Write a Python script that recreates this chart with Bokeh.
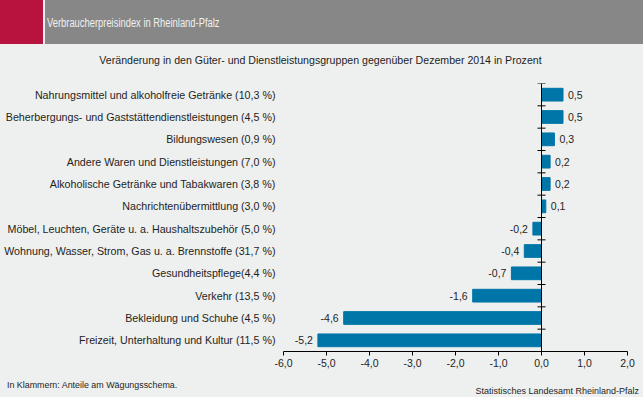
from bokeh.plotting import figure
from bokeh.models import (ColumnDataSource, Range1d, FixedTicker, Span, Div)
from bokeh.layouts import column
from bokeh.core.properties import value
from bokeh.embed import file_html
from bokeh.resources import INLINE

# ---------------- data ----------------
categories = [
    "Nahrungsmittel und alkoholfreie Getränke (10,3 %)",
    "Beherbergungs- und Gaststättendienstleistungen (4,5 %)",
    "Bildungswesen (0,9 %)",
    "Andere Waren und Dienstleistungen (7,0 %)",
    "Alkoholische Getränke und Tabakwaren (3,8 %)",
    "Nachrichtenübermittlung (3,0 %)",
    "Möbel, Leuchten, Geräte u. a. Haushaltszubehör (5,0 %)",
    "Wohnung, Wasser, Strom, Gas u. a. Brennstoffe (31,7 %)",
    "Gesundheitspflege(4,4 %)",
    "Verkehr (13,5 %)",
    "Bekleidung und Schuhe (4,5 %)",
    "Freizeit, Unterhaltung und Kultur (11,5 %)",
]
changes = [0.5, 0.5, 0.3, 0.2, 0.2, 0.1, -0.2, -0.4, -0.7, -1.6, -4.6, -5.2]
x_ticks = [-6, -5, -4, -3, -2, -1, 0, 1, 2]
x_tick_labels = ["-6,0", "-5,0", "-4,0", "-3,0", "-2,0", "-1,0", "0,0", "1,0", "2,0"]

title_text = "Verbraucherpreisindex in Rheinland-Pfalz"
subtitle_text = ("Veränderung in den Güter- und Dienstleistungsgruppen gegenüber "
                 "Dezember 2014 in Prozent")
footnote_text = "In Klammern: Anteile am Wägungsschema."
source_text = "Statistisches Landesamt Rheinland-Pfalz"

# ---------------- style ----------------
BG = "#EEF0EF"
BAR = "#0075A7"
TXT = "#1E1E1E"
FONT = "Liberation Sans"
CSSFONT = "font-family:'Liberation Sans',Arial,sans-serif"

n = len(categories)
ypos = [n - 0.5 - i for i in range(n)]
labels = [f"{v:.1f}".replace(".", ",") for v in changes]
aligns = ["left" if v >= 0 else "right" for v in changes]
offsets = [5 if v >= 0 else -5 for v in changes]

src = ColumnDataSource(dict(y=ypos, v=changes, lab=labels, align=aligns, off=offsets))

W = 643
TOP_H = 72          # banner + subtitle
FOOT_H = 25
H = 397 - TOP_H - FOOT_H
FL, FR, FT = 283, 16, 11
FB = H - FT - 268

header = Div(
    text=(
        f'<div style="position:relative;width:{W}px;height:{TOP_H}px;background:{BG};overflow:hidden">'
        f'<div style="position:absolute;left:0;top:0;width:43px;height:44px;background:#B8123F"></div>'
        f'<div style="position:absolute;left:45px;top:0;right:0;height:44px;background:#878787"></div>'
        f'<div style="position:absolute;left:47px;top:0;height:44px;line-height:46px;'
        f'color:#F0F0F0;{CSSFONT};font-size:12.5px;white-space:nowrap;'
        f'transform:scaleX(0.75);transform-origin:left center">{title_text}</div>'
        f'<div style="position:absolute;left:0;width:641px;top:52px;height:16px;line-height:16px;'
        f'text-align:center;color:{TXT};{CSSFONT};font-size:10.6px;white-space:nowrap">'
        f'{subtitle_text}</div></div>'
    ),
    width=W, height=TOP_H, margin=(0, 0, 0, 0),
    styles={"background-color": BG},
)

footer = Div(
    text=(
        f'<div style="position:relative;width:{W}px;height:{FOOT_H}px;background:{BG};overflow:hidden">'
        f'<div style="position:absolute;left:7px;top:5px;height:16px;line-height:16px;'
        f'color:{TXT};{CSSFONT};font-size:8.9px;white-space:nowrap">{footnote_text}</div>'
        f'<div style="position:absolute;right:4px;top:11px;height:16px;line-height:16px;'
        f'color:{TXT};{CSSFONT};font-size:9px;white-space:nowrap">{source_text}</div></div>'
    ),
    width=W, height=FOOT_H, margin=(0, 0, 0, 0),
    styles={"background-color": BG},
)

p = figure(
    width=W, height=H, output_backend="svg", toolbar_location=None,
    x_range=Range1d(-6, 2), y_range=Range1d(0, n),
    min_border_left=FL, min_border_right=FR, min_border_top=FT, min_border_bottom=FB,
    background_fill_color=BG, border_fill_color=BG, outline_line_color=None,
)
p.xgrid.visible = False
p.ygrid.visible = False

p.hbar(y="y", right="v", left=0, height=0.57, source=src, color=BAR)

p.text(x="v", y="y", text="lab", x_offset="off", text_align="align",
       text_baseline="middle", text_font=value(FONT), text_font_size="10.5px",
       text_color=TXT, source=src)

# zero line with cross ticks
p.add_layout(Span(location=0, dimension="height", line_color="black", line_width=1))
bounds = list(range(0, n + 1))
p.segment(x0=[-0.093] * len(bounds), x1=[0.093] * len(bounds), y0=bounds, y1=bounds,
          line_color="black", line_width=1)

# x axis
xa = p.xaxis[0]
xa.ticker = FixedTicker(ticks=x_ticks)
xa.major_label_overrides = {t: l for t, l in zip(x_ticks, x_tick_labels)}
xa.axis_line_color = "black"
xa.major_tick_line_color = "black"
xa.major_tick_in = 0
xa.major_tick_out = 4
xa.minor_tick_line_color = None
xa.major_label_standoff = 3
xa.major_label_text_font = FONT
xa.major_label_text_font_size = "10.5px"
xa.major_label_text_color = TXT

# y axis (category labels)
ya = p.yaxis[0]
ya.ticker = FixedTicker(ticks=ypos)
ya.major_label_overrides = {y: c for y, c in zip(ypos, categories)}
ya.axis_line_color = None
ya.major_tick_line_color = None
ya.major_tick_in = 0
ya.major_tick_out = 0
ya.minor_tick_line_color = None
ya.major_label_standoff = 8
ya.major_label_text_font = FONT
ya.major_label_text_font_size = "10.7px"
ya.major_label_text_color = TXT

layout = column(header, p, footer, spacing=0, styles={"background-color": BG})

open("out.html", "w").write(file_html(layout, INLINE))
